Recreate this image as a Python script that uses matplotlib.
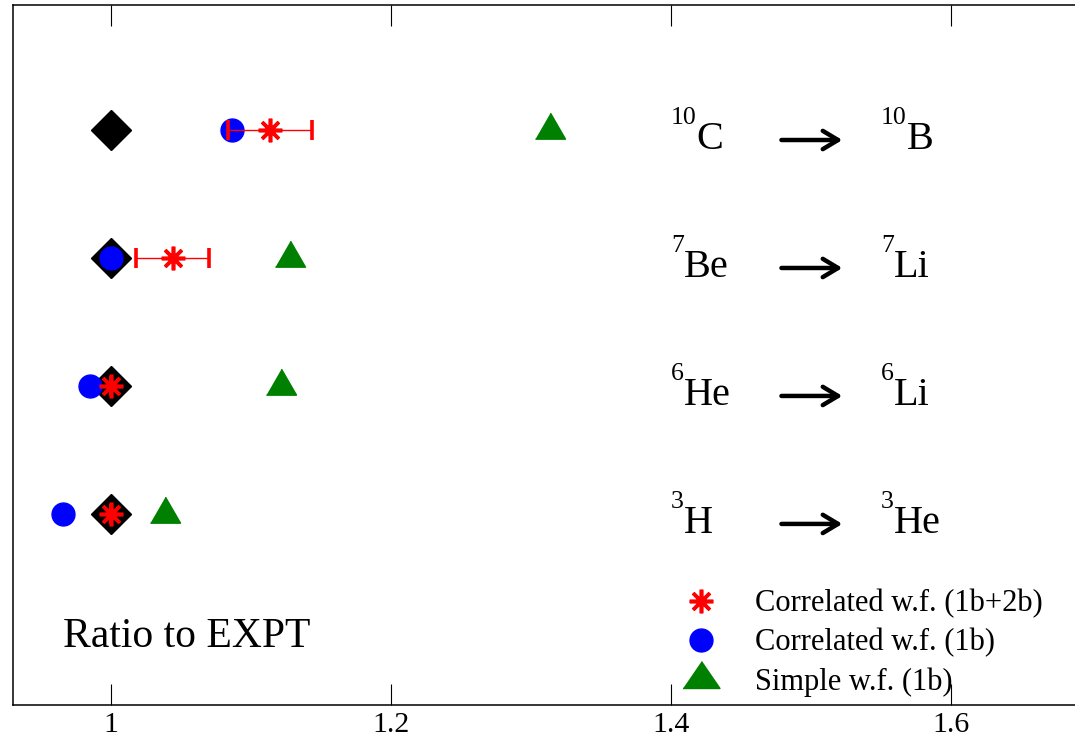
import matplotlib
matplotlib.use("Agg")
import matplotlib.pyplot as plt
from matplotlib.lines import Line2D

plt.rcParams['font.family'] = ['Liberation Serif', 'DejaVu Serif']

# ---- data ----
rows = [1, 2, 3, 4]
parent_mass = ['3', '6', '7', '10']
parent_sym = ['H', 'He', 'Be', 'C']
daughter_mass = ['3', '6', '7', '10']
daughter_sym = ['He', 'Li', 'Li', 'B']
expt = [1.0, 1.0, 1.0, 1.0]
corr_1b = [0.966, 0.985, 1.000, 1.087]
corr_2b = [1.000, 1.000, 1.0445, 1.1136]
corr_2b_err = [0.0, 0.0, 0.026, 0.030]
simple_1b = [1.039, 1.122, 1.128, 1.314]
xticks = [1.0, 1.2, 1.4, 1.6]
xticklabels = ['1', '1.2', '1.4', '1.6']
legend_labels = ['Correlated w.f. (1b+2b)', 'Correlated w.f. (1b)', 'Simple w.f. (1b)']

tri_plot = [(-1, -0.577), (1, -0.577), (0, 1.155)]
tri_leg = [(-1, -0.487), (1, -0.487), (0, 0.973)]
star = (8, 2, 0)

fig = plt.figure(figsize=(10.75, 7.43), dpi=100)
ax = fig.add_axes([12.5 / 1075, 38 / 743, 1 - 12.5 / 1075, 700 / 743])
ax.set_xlim(0.93, 1.6886)
ax.set_ylim(-0.495, 4.975)

ax.plot(expt, rows, linestyle='none', marker='D', ms=20, color='black', zorder=2)
ax.plot(corr_1b, rows, linestyle='none', marker='o', ms=16.5, color='blue', zorder=3)
ax.plot(simple_1b, rows, linestyle='none', marker=tri_plot, ms=25, color='#008000', zorder=3)
ax.errorbar(corr_2b, rows, xerr=corr_2b_err, linestyle='none', marker=star,
            ms=17, mew=2.6, color='red', ecolor='red', elinewidth=1.0,
            capsize=7.5, capthick=1.0, zorder=4)

def isotope(x, y, mass, sym):
    sup = ax.text(x, y + 0.042, mass, fontsize=18.5, ha='left', va='baseline')
    ax.annotate(sym, xy=(1, y - 0.151), xycoords=(sup, 'data'),
                fontsize=29, ha='left', va='baseline')

for y, pm, ps, dm, ds in zip(rows, parent_mass, parent_sym, daughter_mass, daughter_sym):
    isotope(1.40, y, pm, ps)
    isotope(1.55, y, dm, ds)
    ax.annotate('', xy=(1.5225, y - 0.08), xytext=(1.479, y - 0.08),
                arrowprops=dict(arrowstyle='->,head_length=0.55,head_width=0.33',
                                lw=3.2, color='black', mutation_scale=20,
                                shrinkA=0, shrinkB=0))

ax.text(0.966, -0.041, 'Ratio to EXPT', fontsize=30, ha='left', va='baseline')

handles = [
    Line2D([], [], linestyle='none', marker=star, ms=17, mew=2.6, color='red'),
    Line2D([], [], linestyle='none', marker='o', ms=16.5, color='blue'),
    Line2D([], [], linestyle='none', marker=tri_leg, ms=26.6, color='#008000'),
]
ax.legend(handles, legend_labels, loc='center left', bbox_to_anchor=(0.6193, 0.0886),
          frameon=False, fontsize=22, numpoints=1, handlelength=2.0,
          handletextpad=0.77, labelspacing=0.32, borderaxespad=0, borderpad=0)

ax.set_xticks(xticks)
ax.set_xticklabels(xticklabels)
ax.set_yticks([])
ax.tick_params(axis='x', which='both', direction='in', length=15, width=0.8,
               top=True, bottom=True, labelsize=21.5, pad=5)
ax.spines['right'].set_visible(False)
for s in ['left', 'top', 'bottom']:
    ax.spines[s].set_linewidth(1.1)

fig.savefig('out.png', dpi=100)
